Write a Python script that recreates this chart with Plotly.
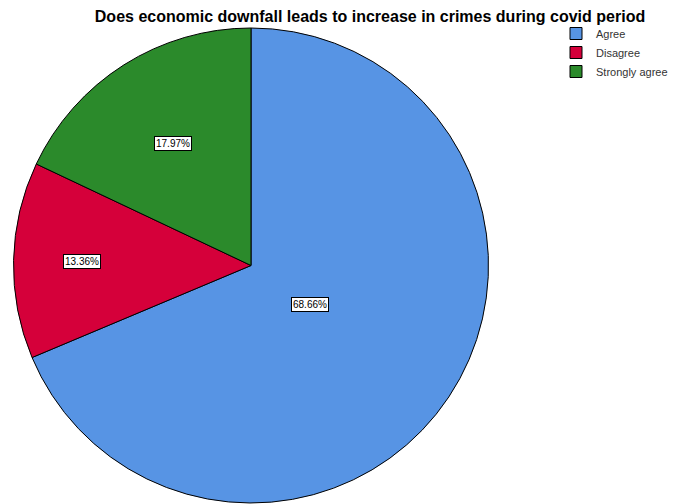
import math
import plotly.graph_objects as go

categories = ["Agree", "Disagree", "Strongly agree"]
percentages = [68.66, 13.36, 17.97]
colors = ["#5794E4", "#D5003A", "#2B8A2B"]
title_text = "Does economic downfall leads to increase in crimes during covid period"

W, H = 680, 504
OFF = 8  # page body margin offsets the figure
# plot area (pixels) chosen to hold the pie
L, T = 13 - OFF, 28 - OFF
R, B = W - (489 - OFF), H - (503 - OFF)
PW, PH = W - L - R, H - T - B

fig = go.Figure(go.Pie(
    labels=categories,
    values=percentages,
    marker=dict(colors=colors, line=dict(color="#000000", width=1)),
    sort=False,
    direction="clockwise",
    rotation=0,
    textinfo="none",
    hoverinfo="label+percent",
    domain=dict(x=[0, 1], y=[0, 1]),
))

# label boxes positioned from the slice angles
label_radius = [0.3, 0.71, 0.61]
R_px = min(PW, PH) / 2
total = sum(percentages)
cum = 0
for cat, v, rf in zip(categories, percentages, label_radius):
    mid = (cum + v / 2) / total * 2 * math.pi
    cum += v
    dx = math.sin(mid) * rf * R_px
    dy = math.cos(mid) * rf * R_px
    fig.add_annotation(
        x=0.5 + dx / PW, y=0.5 + dy / PH, xref="paper", yref="paper",
        xanchor="center", yanchor="middle",
        text=f"{v:.2f}%", showarrow=False,
        font=dict(family="Arial, Liberation Sans", size=10, color="#000000"),
        bgcolor="#FFFFFF", bordercolor="#000000", borderwidth=1, borderpad=1,
    )

fig.update_layout(
    width=W, height=H,
    margin=dict(l=L, r=R, t=T, b=B, autoexpand=False),
    paper_bgcolor="#FFFFFF",
    plot_bgcolor="#FFFFFF",
    title=dict(text=f"<b>{title_text}</b>", x=(370 - OFF) / W, xanchor="center",
               y=1 - 3 / H, yanchor="top",
               font=dict(family="Arial, Liberation Sans", size=16, color="#000000")),
    legend=dict(x=(556 - OFF - L) / PW, y=1 - ((19 - OFF) - T) / PH,
                xanchor="left", yanchor="top",
                font=dict(family="Arial, Liberation Sans", size=11, color="#333333"),
                bgcolor="rgba(0,0,0,0)", itemwidth=30, tracegroupgap=0),
    showlegend=True,
)

fig.write_html("out.html")
